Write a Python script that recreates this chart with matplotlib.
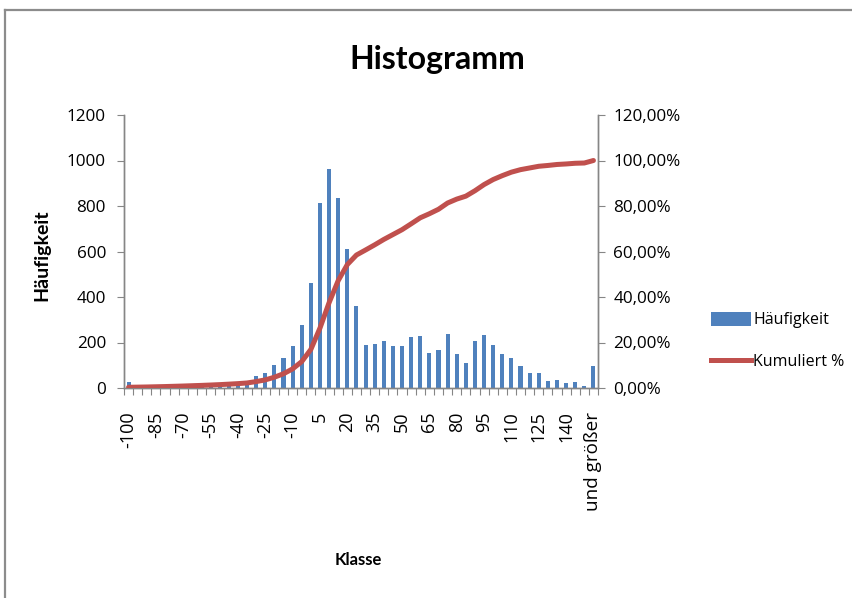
import matplotlib
matplotlib.use("Agg")
import matplotlib.pyplot as plt
import numpy as np
from matplotlib.lines import Line2D
from matplotlib.patches import Patch
from matplotlib.ticker import FuncFormatter

plt.rcParams['font.family'] = ['Lato', 'DejaVu Sans']
tick_font = ['Open Sans', 'DejaVu Sans']

# Class bins (upper limits) and frequency per bin
klassen = [str(v) for v in range(-100, 151, 5)] + ["und größer"]
haeufigkeit = [28, 5, 6, 8, 8, 10, 10, 12, 12, 14, 15, 18, 20, 25,
               53, 64, 101, 132, 185, 276, 461, 811, 963, 836, 609, 361, 191,
               195, 205, 185, 185, 223, 228, 154, 169, 238, 148, 112, 205, 234,
               191, 148, 132, 95, 64, 64, 31, 37, 20, 26, 10, 95]

counts = np.array(haeufigkeit, dtype=float)
kumuliert = np.cumsum(counts) / counts.sum()

x = np.arange(len(klassen))

fig = plt.figure(figsize=(8.53, 5.98), dpi=100)
ax = fig.add_axes([124 / 853, 1 - 388 / 598, (598 - 124) / 853, (388 - 115) / 598])
ax2 = ax.twinx()

bar_color = "#4F81BD"
line_color = "#C0504D"
axis_gray = "#868686"

ax.bar(x, counts, width=0.45, color=bar_color, zorder=2)
ax2.plot(x, kumuliert, color=line_color, lw=3.6, solid_capstyle="round",
         solid_joinstyle="round", zorder=3)

ax.set_xlim(-0.5, len(klassen) - 0.5)
ax.set_ylim(0, 1200)
ax.set_yticks(range(0, 1201, 200))
ax2.set_ylim(0, 1.2)
ax2.set_yticks(np.arange(0, 1.21, 0.2))
ax2.yaxis.set_major_formatter(FuncFormatter(lambda v, p: f"{v * 100:.2f}%".replace(".", ",")))

# Tick marks at the bin boundaries, labels on every third bin
ax.set_xticks(np.arange(-0.5, len(klassen), 1.0))
ax.set_xticklabels([])
ax.tick_params(axis="x", which="major", length=5, color=axis_gray, direction="out")
ax.set_xticks(x[::3], minor=True)
ax.set_xticklabels([klassen[i] for i in x[::3]], minor=True, rotation=90,
                   family=tick_font, fontsize=13)
ax.tick_params(axis="x", which="minor", length=0, pad=17)
ax.get_xticklabels(minor=True)[-1].set_fontsize(13.6)

ax.tick_params(axis="y", length=5, color=axis_gray, pad=8)
ax2.tick_params(axis="y", length=5, color=axis_gray, pad=6)
for lbl in ax.get_yticklabels() + ax2.get_yticklabels():
    lbl.set_family(tick_font)
    lbl.set_fontsize(12.3)

for a in (ax, ax2):
    a.spines["top"].set_visible(False)
    for s in ("left", "right", "bottom"):
        a.spines[s].set_color(axis_gray)
        a.spines[s].set_linewidth(1.0)

fig.text(42 / 853, 1 - 255 / 598, "Häufigkeit", fontsize=14, fontweight="bold",
         rotation=90, ha="center", va="center")
fig.text(358 / 853, 1 - 560 / 598, "Klasse", fontsize=12, fontweight="bold",
         ha="center", va="center")
fig.text(437 / 853, 1 - 60 / 598, "Histogramm", fontsize=23, fontweight="bold",
         ha="center", va="center")

handles = [Patch(facecolor=bar_color, edgecolor="none"),
           Line2D([0], [0], color=line_color, lw=3.6)]
fig.legend(handles, ["Häufigkeit", "Kumuliert %"], loc="upper left",
           bbox_to_anchor=(711 / 853, 1 - 312 / 598), frameon=False,
           prop={"family": tick_font, "size": 11.5}, borderpad=0,
           handlelength=2.5, handleheight=0.95, handletextpad=0.15,
           labelspacing=1.6, borderaxespad=0)

# Chart frame (top and left edges)
fig.add_artist(Line2D([5 / 853, 1.0], [1 - 10 / 598, 1 - 10 / 598],
                      transform=fig.transFigure, color="#8c8c8c", lw=1.6))
fig.add_artist(Line2D([5 / 853, 5 / 853], [0.0, 1 - 10 / 598],
                      transform=fig.transFigure, color="#8c8c8c", lw=1.6))

fig.savefig("out.png", dpi=100)
